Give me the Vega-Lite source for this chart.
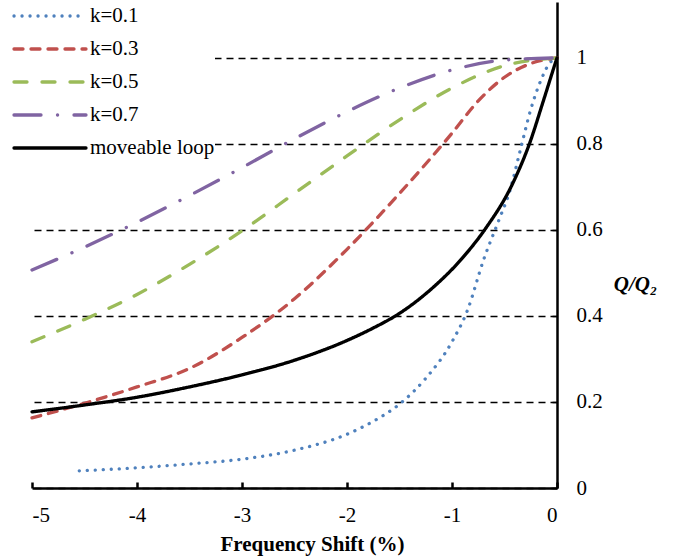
{
  "$schema": "https://vega.github.io/schema/vega-lite/v6.json",
  "width": 525,
  "height": 486,
  "autosize": "none",
  "padding": {"left": 32, "top": 2, "right": 116, "bottom": 72},
  "background": "white",
  "config": {
    "font": "Liberation Serif",
    "view": {"stroke": null}
  },
  "data": {
    "values": [
      {"s": "k=0.1", "x": -4.55, "y": 0.04},
      {"s": "k=0.1", "x": -4.0, "y": 0.047},
      {"s": "k=0.1", "x": -3.5, "y": 0.056},
      {"s": "k=0.1", "x": -3.0, "y": 0.067},
      {"s": "k=0.1", "x": -2.5, "y": 0.088},
      {"s": "k=0.1", "x": -2.0, "y": 0.125},
      {"s": "k=0.1", "x": -1.75, "y": 0.155},
      {"s": "k=0.1", "x": -1.5, "y": 0.195},
      {"s": "k=0.1", "x": -1.25, "y": 0.255},
      {"s": "k=0.1", "x": -1.0, "y": 0.34},
      {"s": "k=0.1", "x": -0.85, "y": 0.415},
      {"s": "k=0.1", "x": -0.7, "y": 0.53},
      {"s": "k=0.1", "x": -0.55, "y": 0.625},
      {"s": "k=0.1", "x": -0.45, "y": 0.69},
      {"s": "k=0.1", "x": -0.35, "y": 0.785},
      {"s": "k=0.1", "x": -0.25, "y": 0.88},
      {"s": "k=0.1", "x": -0.15, "y": 0.95},
      {"s": "k=0.1", "x": -0.07, "y": 0.988},
      {"s": "k=0.1", "x": 0.0, "y": 1.0},
      {"s": "k=0.3", "x": -5.0, "y": 0.163},
      {"s": "k=0.3", "x": -4.5, "y": 0.197},
      {"s": "k=0.3", "x": -4.0, "y": 0.235},
      {"s": "k=0.3", "x": -3.5, "y": 0.278},
      {"s": "k=0.3", "x": -3.0, "y": 0.35},
      {"s": "k=0.3", "x": -2.5, "y": 0.44},
      {"s": "k=0.3", "x": -2.0, "y": 0.555},
      {"s": "k=0.3", "x": -1.5, "y": 0.685},
      {"s": "k=0.3", "x": -1.0, "y": 0.825},
      {"s": "k=0.3", "x": -0.75, "y": 0.9},
      {"s": "k=0.3", "x": -0.5, "y": 0.955},
      {"s": "k=0.3", "x": -0.25, "y": 0.987},
      {"s": "k=0.3", "x": 0.0, "y": 1.0},
      {"s": "k=0.5", "x": -5.0, "y": 0.34},
      {"s": "k=0.5", "x": -4.5, "y": 0.392},
      {"s": "k=0.5", "x": -4.0, "y": 0.45},
      {"s": "k=0.5", "x": -3.5, "y": 0.52},
      {"s": "k=0.5", "x": -3.0, "y": 0.598},
      {"s": "k=0.5", "x": -2.5, "y": 0.685},
      {"s": "k=0.5", "x": -2.0, "y": 0.772},
      {"s": "k=0.5", "x": -1.5, "y": 0.856},
      {"s": "k=0.5", "x": -1.0, "y": 0.93},
      {"s": "k=0.5", "x": -0.5, "y": 0.982},
      {"s": "k=0.5", "x": 0.0, "y": 1.0},
      {"s": "k=0.7", "x": -5.0, "y": 0.507},
      {"s": "k=0.7", "x": -4.5, "y": 0.56},
      {"s": "k=0.7", "x": -4.0, "y": 0.618},
      {"s": "k=0.7", "x": -3.5, "y": 0.68},
      {"s": "k=0.7", "x": -3.0, "y": 0.745},
      {"s": "k=0.7", "x": -2.5, "y": 0.812},
      {"s": "k=0.7", "x": -2.0, "y": 0.875},
      {"s": "k=0.7", "x": -1.5, "y": 0.93},
      {"s": "k=0.7", "x": -1.0, "y": 0.972},
      {"s": "k=0.7", "x": -0.5, "y": 0.995},
      {"s": "k=0.7", "x": 0.0, "y": 1.0},
      {"s": "moveable loop", "x": -5.0, "y": 0.177},
      {"s": "moveable loop", "x": -4.5, "y": 0.193},
      {"s": "moveable loop", "x": -4.0, "y": 0.211},
      {"s": "moveable loop", "x": -3.5, "y": 0.235},
      {"s": "moveable loop", "x": -3.0, "y": 0.263},
      {"s": "moveable loop", "x": -2.5, "y": 0.297},
      {"s": "moveable loop", "x": -2.0, "y": 0.343},
      {"s": "moveable loop", "x": -1.75, "y": 0.372},
      {"s": "moveable loop", "x": -1.5, "y": 0.406},
      {"s": "moveable loop", "x": -1.21, "y": 0.46},
      {"s": "moveable loop", "x": -0.9, "y": 0.535},
      {"s": "moveable loop", "x": -0.69, "y": 0.6},
      {"s": "moveable loop", "x": -0.42, "y": 0.709},
      {"s": "moveable loop", "x": -0.26, "y": 0.802},
      {"s": "moveable loop", "x": -0.13, "y": 0.9},
      {"s": "moveable loop", "x": -0.02, "y": 0.985},
      {"s": "moveable loop", "x": 0.0, "y": 1.0}
    ]
  },
  "mark": {"type": "line", "strokeWidth": 3.3, "strokeCap": "round", "interpolate": "monotone"},
  "encoding": {
    "x": {
      "field": "x", "type": "quantitative",
      "scale": {"domain": [-5, 0], "nice": false, "zero": false},
      "axis": {
        "orient": "bottom",
        "values": [-5, -4, -3, -2, -1, 0],
        "labelExpr": "'' + datum.value",
        "grid": false,
        "domainColor": "black", "domainWidth": 2.5,
        "tickColor": "black", "tickWidth": 2.5, "tickSize": -6,
        "labelPadding": 22, "labelFontSize": 21, "labelColor": "black",
        "title": "Frequency Shift (%)", "titleFontSize": 21, "titleFontWeight": "bold",
        "titleColor": "black", "titlePadding": 8,
        "titleX": 280, "titleAlign": "center"
      }
    },
    "y": {
      "field": "y", "type": "quantitative",
      "scale": {"domain": [0, 1.13], "nice": false},
      "axis": {
        "orient": "right",
        "values": [0, 0.2, 0.4, 0.6, 0.8, 1],
        "format": "~g",
        "grid": true, "gridDash": [7, 5], "gridColor": "black", "gridWidth": 1.5, "gridOpacity": 1,
        "domainColor": "black", "domainWidth": 2.5,
        "tickColor": "black", "tickWidth": 1.5, "tickSize": -5,
        "labelPadding": 24, "labelFontSize": 21, "labelColor": "black", "labelAlign": "left",
        "title": "Q/Q₂", "titleAngle": 0, "titleFontStyle": "italic", "titleFontWeight": "bold",
        "titleFontSize": 21, "titleColor": "black",
        "titleX": 78, "titleY": 282, "titleAlign": "center", "titleBaseline": "middle"
      }
    },
    "color": {
      "field": "s", "type": "nominal",
      "scale": {
        "domain": ["k=0.1", "k=0.3", "k=0.5", "k=0.7", "moveable loop"],
        "range": ["#4F81BD", "#C0504D", "#9BBB59", "#8064A2", "#000000"]
      },
      "legend": {
        "title": null,
        "orient": "none", "legendX": -20, "legendY": 0,
        "padding": 0, "fillColor": "white",
        "symbolType": "M-1,0H5", "symbolSize": 576, "symbolStrokeWidth": 3.3,
        "labelFontSize": 21, "labelColor": "black", "labelOffset": 50,
        "rowPadding": 9,
        "encoding": {
          "symbols": {"strokeCap": {"value": "round"}}
        }
      }
    },
    "strokeDash": {
      "field": "s", "type": "nominal",
      "scale": {
        "domain": ["k=0.1", "k=0.3", "k=0.5", "k=0.7", "moveable loop"],
        "range": [[0.1, 7.9], [9, 8], [13, 15], [27, 16.5, 0.1, 16.4], [1, 0]]
      },
      "legend": {
        "title": null,
        "orient": "none", "legendX": -20, "legendY": 0,
        "padding": 0, "fillColor": "white",
        "symbolType": "M-1,0H5", "symbolSize": 576, "symbolStrokeWidth": 3.3,
        "labelFontSize": 21, "labelColor": "black", "labelOffset": 50,
        "rowPadding": 9,
        "encoding": {
          "symbols": {"strokeCap": {"value": "round"}}
        }
      }
    }
  }
}
